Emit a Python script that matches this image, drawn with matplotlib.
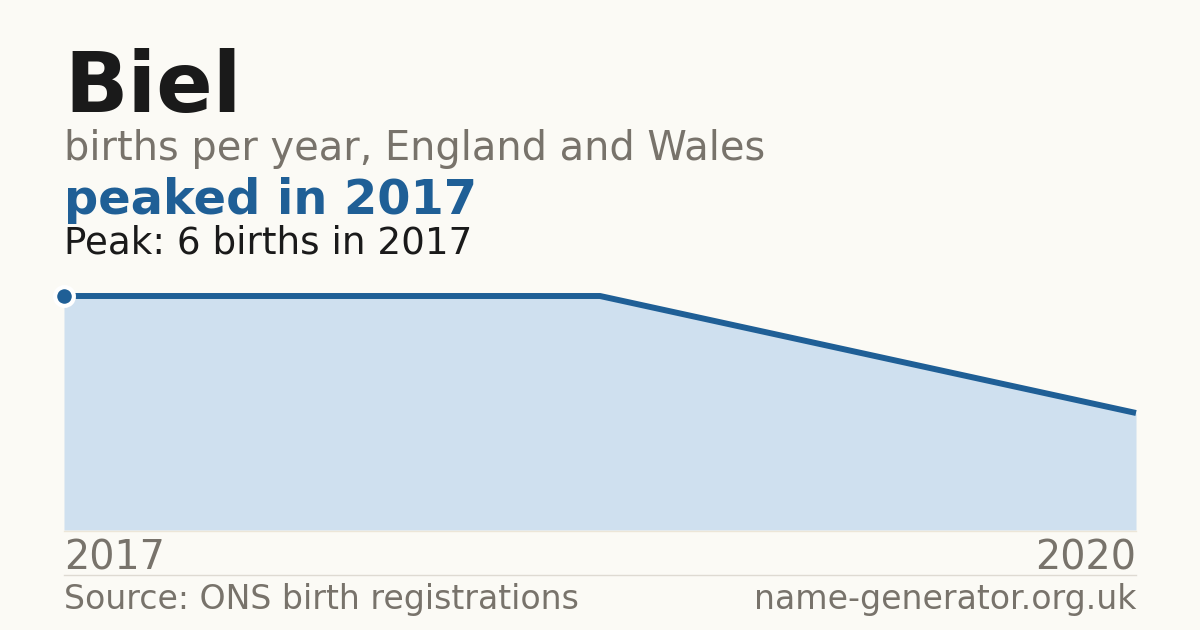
import matplotlib
matplotlib.use("Agg")
import matplotlib.pyplot as plt

years = ["2017", "2018", "2020"]
births = [6, 6, 3]

BG = "#fbfaf5"
BLUE = "#1f5f96"
FILL = "#cfe0ef"
GRAY = "#78736b"
DARK = "#1a1a1a"

W, H = 1200, 630
plt.rcParams['font.family'] = ['DejaVu Sans']
fig = plt.figure(figsize=(W / 100, H / 100), dpi=100, facecolor=BG)

def fx(px):
    return px / W

def fy(py):
    return 1 - py / H

left, right = 64, 1136
bottom, top = 530, 296
ax = fig.add_axes([fx(left), fy(bottom), fx(right) - fx(left), (bottom - top) / H])
ax.set_facecolor("none")
xs = list(range(len(years)))
ax.fill_between(xs, births, 0, color=FILL, linewidth=0)
ax.plot(xs, births, color=BLUE, linewidth=4.3, solid_capstyle="butt", clip_on=False)
peak_i = births.index(max(births))
ax.plot([xs[peak_i]], [births[peak_i]], "o", color=BLUE, markersize=13.5,
        markeredgecolor="white", markeredgewidth=3, clip_on=False, zorder=5)
ax.set_xlim(xs[0], xs[-1])
ax.set_ylim(0, max(births))
ax.axis("off")

# baseline
fig.add_artist(plt.Line2D([fx(left), fx(right)], [fy(530.5), fy(530.5)], color="#ece6d8", linewidth=1))
# separator
fig.add_artist(plt.Line2D([fx(left), fx(right)], [fy(574.5), fy(574.5)], color="#dedad2", linewidth=1))

fig.text(fx(64), fy(112), "Biel", fontsize=60, fontweight="bold", color=DARK, va="baseline", ha="left")
fig.text(fx(64), fy(160), "births per year, England and Wales", fontsize=28.7, color=GRAY, va="baseline", ha="left")
fig.text(fx(64), fy(214), "peaked in 2017", fontsize=34.5, fontweight="bold", color=BLUE, va="baseline", ha="left")
fig.text(fx(64), fy(254), f"Peak: {max(births)} births in {years[peak_i]}", fontsize=26.8, color=DARK, va="baseline", ha="left")

fig.text(fx(64), fy(570), years[0], fontsize=28.5, color=GRAY, va="baseline", ha="left")
fig.text(fx(1136), fy(570), years[-1], fontsize=28.5, color=GRAY, va="baseline", ha="right")

fig.text(fx(64), fy(609), "Source: ONS birth registrations", fontsize=23.9, color=GRAY, va="baseline", ha="left")
fig.text(fx(1136), fy(609), "name-generator.org.uk", fontsize=23.9, color=GRAY, va="baseline", ha="right")

fig.savefig("out.png", dpi=100, facecolor=BG)
